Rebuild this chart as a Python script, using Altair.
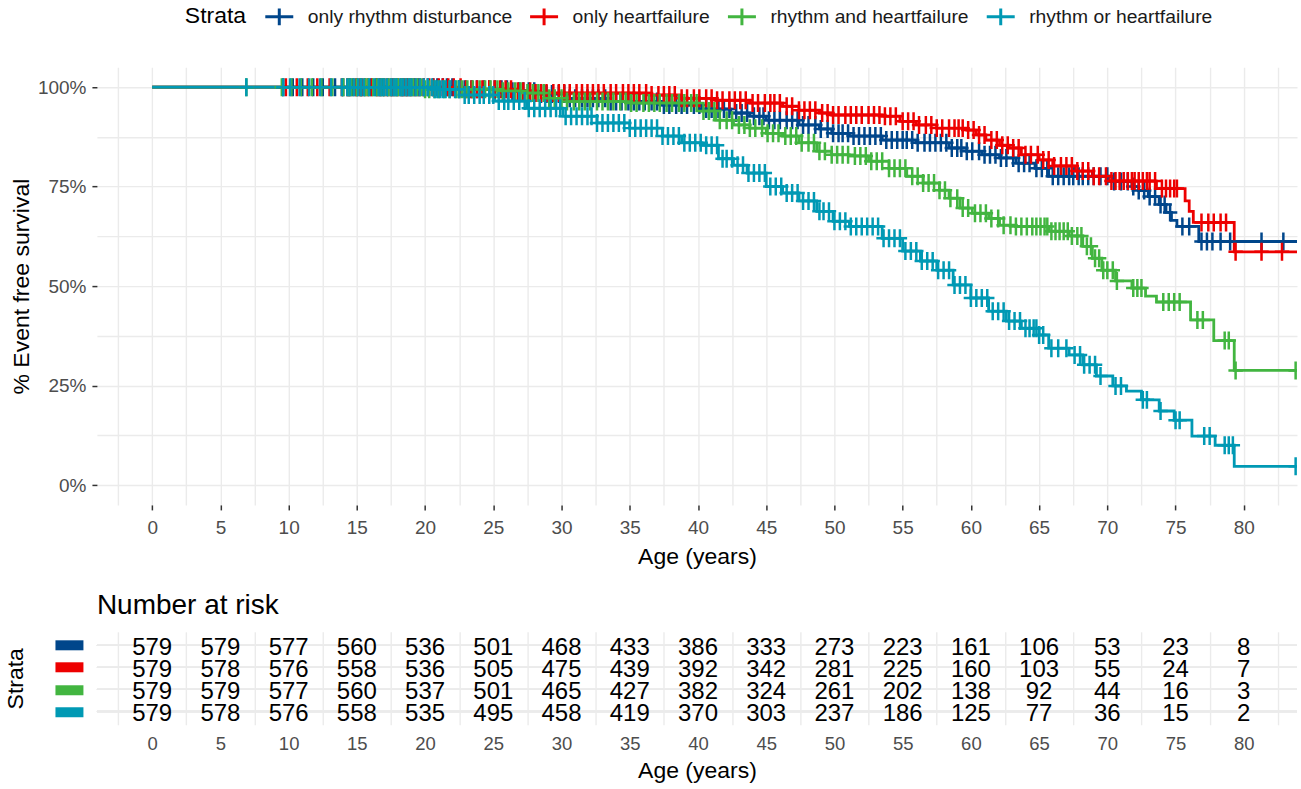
import altair as alt
import pandas as pd
from bisect import bisect_right

FONT = "Liberation Sans"

# Strata and their colours (Lancet palette)
STRATA = ["only rhythm disturbance", "only heartfailure",
          "rhythm and heartfailure", "rhythm or heartfailure"]
COLORS = ["#00468B", "#ED0000", "#42B540", "#0099B4"]

# Kaplan-Meier step points: age (years) and event free survival (%)
rhythm_age = [0, 22.2, 26.2, 28.2, 30.4, 33.3, 37.3, 40.3, 42.4, 43.8, 45.0, 47.4, 48.9, 49.8,
              51.1, 53.5, 56.0, 58.4, 59.7, 60.8, 62.1, 63.3, 64.7, 65.7, 70.4, 71.8, 72.3,
              73.0, 73.8, 74.3, 74.7, 75.1, 76.7, 83.9]
rhythm_surv = [100, 99.5, 99.0, 98.3, 97.2, 96.4, 95.5, 94.5, 93.5, 92.7, 91.7, 90.5, 89.5, 88.4,
               87.7, 86.7, 86.0, 84.7, 83.9, 83.0, 82.2, 80.9, 79.6, 77.6, 76.3, 75.0, 74.0,
               72.5, 70.5, 68.5, 66.5, 65.0, 61.2, 61.2]

heart_age = [0, 23.0, 26.7, 28.0, 36.5, 38.8, 41.3, 43.8, 46.2, 47.4, 48.9, 49.8, 53.5, 54.8,
             56.0, 57.5, 59.7, 60.4, 61.1, 62.1, 62.8, 63.7, 65.0, 66.0, 67.6, 68.9, 70.1,
             73.6, 75.7, 76.0, 76.3, 79.3, 83.9]
heart_surv = [100, 99.5, 99.0, 98.5, 98.0, 97.2, 96.7, 96.0, 95.2, 94.2, 93.5, 93.0, 92.7, 91.4,
              90.5, 89.7, 89.2, 88.0, 86.7, 85.4, 84.7, 83.0, 81.7, 80.2, 78.9, 77.6, 76.4,
              74.5, 71.4, 68.8, 66.0, 58.6, 58.6]

both_age = [0, 20.0, 25.5, 27.4, 29.1, 30.4, 35.0, 40.1, 41.3, 42.6, 43.8, 45.0, 46.2, 47.4,
            48.7, 49.8, 51.1, 52.5, 54.0, 55.3, 56.5, 57.7, 58.4, 59.2, 60.1, 61.3, 62.1,
            63.3, 65.7, 67.2, 68.2, 68.9, 69.6, 70.6, 71.8, 72.8, 73.6, 76.1, 77.8, 79.3, 83.9]
both_surv = [100, 99.5, 99.0, 98.5, 97.2, 96.4, 96.0, 94.0, 91.7, 90.5, 89.7, 88.4, 87.7, 86.0,
             83.9, 83.0, 82.7, 81.4, 79.6, 77.6, 75.9, 74.1, 72.1, 69.6, 68.3, 67.0, 65.3,
             65.0, 63.8, 62.6, 60.0, 57.0, 54.0, 51.3, 49.5, 47.5, 46.0, 41.5, 36.3, 28.8, 28.8]

either_age = [0, 20.7, 22.6, 25.1, 27.5, 30.1, 32.6, 35.0, 37.4, 38.8, 40.3, 41.5, 42.6, 43.6,
              45.0, 46.2, 47.4, 48.7, 49.9, 51.1, 53.5, 55.0, 56.3, 57.5, 58.7, 60.0, 61.3,
              62.6, 63.7, 65.0, 65.7, 67.2, 68.2, 69.2, 70.4, 71.4, 72.5, 73.8, 74.9, 76.2,
              77.9, 79.3, 83.9]
either_surv = [100, 99.5, 98.0, 96.5, 94.7, 92.7, 91.0, 89.7, 87.7, 86.0, 85.4, 82.0, 80.4, 78.4,
               75.0, 73.4, 71.4, 68.8, 66.3, 65.0, 62.0, 58.8, 56.3, 54.0, 50.3, 47.0, 43.7,
               41.2, 39.4, 37.7, 34.4, 32.7, 30.2, 27.4, 24.9, 23.6, 21.4, 18.6, 16.3, 12.3,
               10.0, 4.7, 4.7]

# Censoring ages (+ marks)
rhythm_cens = [9.6, 10.3, 11.0, 11.8, 12.5, 13.4, 14.0, 14.4, 14.7, 15.0, 15.3, 15.6, 16.0,
               16.4, 16.7, 16.9, 17.3, 17.6, 17.9, 18.2, 18.4, 18.7, 18.9, 19.2, 19.5, 19.9,
               20.2, 20.6, 20.9, 21.3, 21.6, 22.0, 22.5, 22.9, 23.4, 23.8, 24.3, 24.7, 25.1,
               25.6, 26.0, 26.4, 26.9, 27.2, 27.6, 28.0, 28.5, 28.9, 29.3, 29.8, 30.2, 30.6,
               31.0, 31.5, 31.9, 32.3, 32.7, 33.2, 33.6, 34.0, 34.4, 34.9, 35.3, 35.7, 36.1,
               36.6, 37.0, 37.5, 37.9, 38.4, 38.8, 39.2, 39.7, 40.1, 40.6, 41.0, 41.5, 41.9,
               42.3, 42.8, 43.2, 43.6, 44.1, 44.5, 44.8, 45.2, 45.6, 46.0, 46.5, 46.9, 47.3,
               47.7, 48.1, 48.6, 49.0, 49.5, 49.9, 50.3, 50.6, 51.0, 51.4, 51.8, 52.2, 52.6,
               53.0, 53.4, 53.8, 54.2, 54.6, 55.0, 55.3, 55.7, 56.1, 56.6, 57.0, 57.4, 57.8,
               58.2, 58.6, 59.0, 59.3, 59.7, 60.1, 60.6, 61.0, 61.4, 61.8, 62.2, 62.6, 63.1,
               63.5, 63.9, 64.3, 64.8, 65.2, 65.6, 66.0, 66.4, 66.8, 67.2, 67.5, 67.9, 68.2,
               68.6, 69.0, 69.5, 70.0, 70.5, 71.0, 71.5, 71.9, 72.3, 72.7, 73.1, 73.5, 73.9,
               74.2, 74.6, 75.5, 76.0, 76.9, 77.3, 77.7, 78.3, 79.0, 81.3, 82.9]
heart_cens = [9.8, 10.6, 11.4, 12.1, 13.0, 13.9, 14.3, 14.5, 14.9, 15.2, 15.4, 15.8, 16.1,
              16.5, 16.7, 17.0, 17.2, 17.5, 17.7, 18.0, 18.3, 18.5, 18.7, 19.0, 19.3, 19.6,
              19.9, 20.3, 20.6, 21.0, 21.3, 21.7, 22.1, 22.6, 23.0, 23.4, 23.8, 24.2, 24.7,
              25.1, 25.5, 25.9, 26.3, 26.8, 27.2, 27.7, 28.1, 28.5, 28.9, 29.4, 29.8, 30.2,
              30.6, 31.1, 31.5, 31.9, 32.3, 32.7, 33.1, 33.6, 34.0, 34.5, 34.9, 35.3, 35.7,
              36.2, 36.6, 37.1, 37.5, 37.9, 38.3, 38.8, 39.2, 39.7, 40.1, 40.6, 41.0, 41.4,
              41.8, 42.3, 42.7, 43.1, 43.5, 44.0, 44.4, 44.9, 45.3, 45.6, 46.0, 46.5, 46.9,
              47.4, 47.8, 48.2, 48.6, 49.1, 49.5, 49.9, 50.3, 50.8, 51.2, 51.6, 52.0, 52.5,
              52.9, 53.3, 53.7, 54.1, 54.5, 55.0, 55.4, 55.8, 56.2, 56.7, 57.1, 57.5, 57.9,
              58.4, 58.8, 59.1, 59.4, 59.8, 60.2, 60.6, 61.0, 61.5, 61.9, 62.3, 62.7, 63.1,
              63.5, 64.0, 64.4, 64.9, 65.3, 65.7, 66.1, 66.6, 67.0, 67.4, 67.8, 68.2, 68.6,
              69.0, 69.4, 69.9, 70.3, 70.6, 70.9, 71.2, 71.5, 71.8, 72.0, 72.3, 72.6, 72.9,
              73.1, 73.5, 74.0, 74.3, 74.6, 74.9, 75.1, 76.9, 77.4, 77.8, 78.3, 78.7, 79.4,
              81.3, 82.8]
both_cens = [6.9, 9.5, 10.2, 10.9, 11.7, 12.4, 13.2, 14.0, 14.4, 14.6, 15.0, 15.3, 15.6,
             15.8, 16.2, 16.5, 16.8, 17.0, 17.3, 17.5, 17.8, 18.0, 18.3, 18.6, 18.9, 19.1,
             19.4, 19.7, 20.0, 20.3, 20.7, 21.0, 21.4, 21.8, 22.3, 22.7, 23.1, 23.5, 24.0,
             24.4, 24.8, 25.3, 25.7, 26.1, 26.6, 27.0, 27.5, 27.9, 28.3, 28.7, 29.1, 29.5,
             30.0, 30.4, 30.9, 31.3, 31.7, 32.1, 32.6, 33.0, 33.4, 33.8, 34.3, 34.7, 35.1,
             35.5, 36.0, 36.4, 36.8, 37.2, 37.7, 38.1, 38.6, 39.0, 39.5, 39.9, 40.4, 40.8,
             41.2, 41.6, 42.1, 42.5, 43.0, 43.4, 43.8, 44.2, 44.7, 45.1, 45.5, 45.9, 46.4,
             46.8, 47.2, 47.6, 48.1, 48.5, 48.9, 49.3, 49.8, 50.2, 50.6, 51.0, 51.5, 51.9,
             52.3, 52.7, 53.1, 53.5, 54.0, 54.4, 54.8, 55.2, 55.7, 56.1, 56.5, 56.9, 57.3,
             57.7, 58.1, 58.5, 59.0, 59.4, 59.8, 60.3, 60.7, 61.1, 61.5, 62.0, 62.4, 62.9,
             63.3, 63.7, 64.1, 64.5, 64.8, 65.1, 65.4, 65.6, 65.9, 66.2, 66.5, 66.8, 67.1,
             67.4, 67.8, 68.1, 68.5, 68.8, 69.1, 69.4, 69.7, 70.0, 70.4, 70.7, 71.9, 72.2,
             72.5, 74.1, 74.5, 74.9, 75.3, 76.6, 77.0, 78.6, 78.9, 79.4, 83.8]
either_cens = [6.9, 9.6, 10.1, 10.8, 11.5, 12.3, 13.1, 13.9, 14.3, 14.5, 14.8, 15.1, 15.3,
               15.5, 15.9, 16.3, 16.6, 16.8, 17.0, 17.2, 17.5, 17.7, 17.9, 18.2, 18.4, 18.6,
               18.8, 19.0, 19.3, 19.6, 19.9, 20.2, 20.5, 20.7, 20.9, 21.1, 21.3, 21.5, 21.8,
               22.2, 22.5, 22.9, 23.2, 23.6, 24.0, 24.3, 24.7, 25.0, 25.4, 25.8, 26.1, 26.5,
               26.9, 27.3, 27.6, 28.0, 28.4, 28.8, 29.2, 29.6, 29.9, 30.3, 30.7, 31.1, 31.5,
               31.9, 32.2, 32.6, 33.0, 33.4, 33.8, 34.2, 34.6, 35.0, 35.4, 35.8, 36.2, 36.6,
               37.0, 37.4, 37.8, 38.2, 38.6, 39.0, 39.4, 39.8, 40.2, 40.6, 41.0, 41.4, 41.8,
               42.1, 42.5, 42.9, 43.3, 43.7, 44.1, 44.5, 44.9, 45.3, 45.7, 46.1, 46.5, 46.9,
               47.3, 47.7, 48.1, 48.5, 48.9, 49.2, 49.6, 50.0, 50.4, 50.8, 51.2, 51.6, 52.0,
               52.4, 52.8, 53.2, 53.6, 54.0, 54.4, 54.8, 55.2, 55.6, 56.0, 56.4, 56.8, 57.2,
               57.6, 58.0, 58.4, 58.8, 59.2, 59.6, 60.0, 60.4, 60.8, 61.2, 61.6, 62.0, 62.4,
               62.8, 63.2, 63.6, 64.0, 64.3, 64.6, 64.8, 65.0, 65.3, 65.9, 66.4, 67.0, 67.6,
               68.0, 68.3, 68.7, 69.1, 69.5, 70.6, 71.0, 72.6, 72.9, 73.9, 75.0, 75.3, 77.1,
               77.5, 78.6, 78.9, 79.2, 83.8]

# Number at risk table
risk_times = [0, 5, 10, 15, 20, 25, 30, 35, 40, 45, 50, 55, 60, 65, 70, 75, 80]
rhythm_risk = [579, 579, 577, 560, 536, 501, 468, 433, 386, 333, 273, 223, 161, 106, 53, 23, 8]
heart_risk = [579, 578, 576, 558, 536, 505, 475, 439, 392, 342, 281, 225, 160, 103, 55, 24, 7]
both_risk = [579, 579, 577, 560, 537, 501, 465, 427, 382, 324, 261, 202, 138, 92, 44, 16, 3]
either_risk = [579, 578, 576, 558, 535, 495, 458, 419, 370, 303, 237, 186, 125, 77, 36, 15, 2]

curves = [
    (STRATA[0], rhythm_age, rhythm_surv, rhythm_cens, rhythm_risk),
    (STRATA[1], heart_age, heart_surv, heart_cens, heart_risk),
    (STRATA[2], both_age, both_surv, both_cens, both_risk),
    (STRATA[3], either_age, either_surv, either_cens, either_risk),
]


def surv_at(ages, survs, t):
    """Value of the step function at time t."""
    return survs[max(bisect_right(ages, t) - 1, 0)]


step_rows, cens_rows, risk_rows = [], [], []
for k, (name, ages, survs, cens, risk) in enumerate(curves):
    for a, s in zip(ages, survs):
        step_rows.append({"strata": name, "k": k, "age": a, "surv": s})
    for c in cens:
        cens_rows.append({"strata": name, "k": k, "age": c, "surv": surv_at(ages, survs, c)})
    for t, n in zip(risk_times, risk):
        risk_rows.append({"strata": name, "time": t, "n": n})

steps = pd.DataFrame(step_rows)
censored = pd.DataFrame(cens_rows)
at_risk = pd.DataFrame(risk_rows)

x_scale = alt.Scale(domain=[-4.05, 83.9], nice=False, zero=False)
x_values = [v / 2 for v in range(-5, 166, 5)]      # every 2.5 years
y_values = [v / 2 for v in range(0, 201, 25)]      # every 12.5 %

color = alt.Color(
    "strata:N",
    scale=alt.Scale(domain=STRATA, range=COLORS),
    legend=alt.Legend(
        title="Strata", orient="none", legendX=88, legendY=-66, direction="horizontal",
        titleOrient="left", titleAnchor="middle", titleFontSize=23, titleFontWeight="normal",
        titleColor="black", titlePadding=17, labelFontSize=19.3, labelColor="#1A1A1A",
        labelLimit=0, labelOffset=13, columnPadding=11, padding=0,
        symbolType="M-1,0L1,0M0,-0.6L0,0.6", symbolSize=784, symbolStrokeWidth=3,
    ),
)

x_top = alt.X(
    "age:Q", scale=x_scale,
    axis=alt.Axis(
        values=x_values, labelExpr="datum.value % 5 === 0 ? datum.value : ''",
        labelOverlap=False, labelFlush=False, domain=False,
        grid=True, gridColor="#EBEBEB", gridWidth=1.4,
        tickSize=5, tickWidth=1.5,
        tickColor={"condition": {"test": "datum.value % 5 !== 0", "value": "transparent"},
                   "value": "#333333"},
        labelFontSize=19, labelColor="#4D4D4D", labelPadding=9,
        title="Age (years)", titleFontSize=23, titleFontWeight="normal",
        titleColor="black", titlePadding=8,
    ),
)
y_top = alt.Y(
    "surv:Q", scale=alt.Scale(domain=[-5, 105], nice=False, zero=False),
    axis=alt.Axis(
        values=y_values, labelExpr="datum.value % 25 === 0 ? datum.value + '%' : ''",
        labelOverlap=False, labelFlush=False, domain=False,
        grid=True, gridColor="#EBEBEB", gridWidth=1.4,
        tickSize=5, tickWidth=1.5,
        tickColor={"condition": {"test": "datum.value % 25 !== 0", "value": "transparent"},
                   "value": "#333333"},
        labelFontSize=19, labelColor="#4D4D4D", labelPadding=6,
        title="% Event free survival", titleFontSize=23, titleFontWeight="normal",
        titleColor="black", titlePadding=4,
    ),
)

# Curves and censoring marks are clipped to the panel
lines = alt.Chart(steps).mark_line(
    interpolate="step-after", strokeWidth=2.8, clip=True,
).encode(x=x_top, y=y_top, color=color, detail="k:O", order="age:Q")
marks = alt.Chart(censored).mark_point(
    shape="M-0.8,0L0.8,0M0,-1L0,1", size=324, filled=False, strokeWidth=2.5, opacity=1,
    clip=True,
).encode(x=x_top, y=y_top, color=color, order="k:O")

survival = alt.layer(lines, marks).properties(width=1201, height=438)

# Number-at-risk table
x_bottom = alt.X(
    "time:Q", scale=x_scale,
    axis=alt.Axis(
        values=x_values, labelExpr="datum.value % 5 === 0 ? datum.value : ''",
        labelOverlap=False, labelFlush=False, domain=False, ticks=False,
        grid=True, gridWidth=1.4,
        gridColor={"condition": {"test": "datum.value % 5 === 0", "value": "transparent"},
                   "value": "#EBEBEB"},
        labelFontSize=18.5, labelColor="#4D4D4D", labelPadding=10,
        title="Age (years)", titleFontSize=23, titleFontWeight="normal",
        titleColor="black", titlePadding=6,
    ),
)
y_bottom = alt.Y(
    "strata:N", scale=alt.Scale(type="point", domain=STRATA, padding=0.6),
    axis=alt.Axis(
        labels=False, domain=False, grid=False, offset=14,
        tickSize=28, tickWidth=10,
        tickColor={"condition": [
            {"test": f"datum.value === '{STRATA[0]}'", "value": COLORS[0]},
            {"test": f"datum.value === '{STRATA[1]}'", "value": COLORS[1]},
            {"test": f"datum.value === '{STRATA[2]}'", "value": COLORS[2]},
        ], "value": COLORS[3]},
        title="Strata", titleFontSize=23, titleFontWeight="normal", titleColor="black",
        titlePadding=22,
    ),
)

row_rules = alt.Chart(at_risk).mark_rule(color="#EBEBEB", strokeWidth=1.4).encode(y=y_bottom)
counts = alt.Chart(at_risk).mark_text(
    fontSize=24, color="black", baseline="middle", dy=3, font=FONT,
).encode(x=x_bottom, y=y_bottom, text="n:Q")

risk_table = alt.layer(row_rules, counts).properties(
    width=1201, height=93,
    title=alt.TitleParams("Number at risk", anchor="start", frame="group", fontSize=28,
                          fontWeight="normal", color="black", offset=12, font=FONT),
)

chart = alt.vconcat(survival, risk_table, spacing=23).properties(
    padding={"left": 5, "top": 1, "right": 3, "bottom": 0},
).configure(font=FONT).configure_view(stroke=None)

chart.save("out.html", embed_options={"renderer": "svg", "actions": False})
